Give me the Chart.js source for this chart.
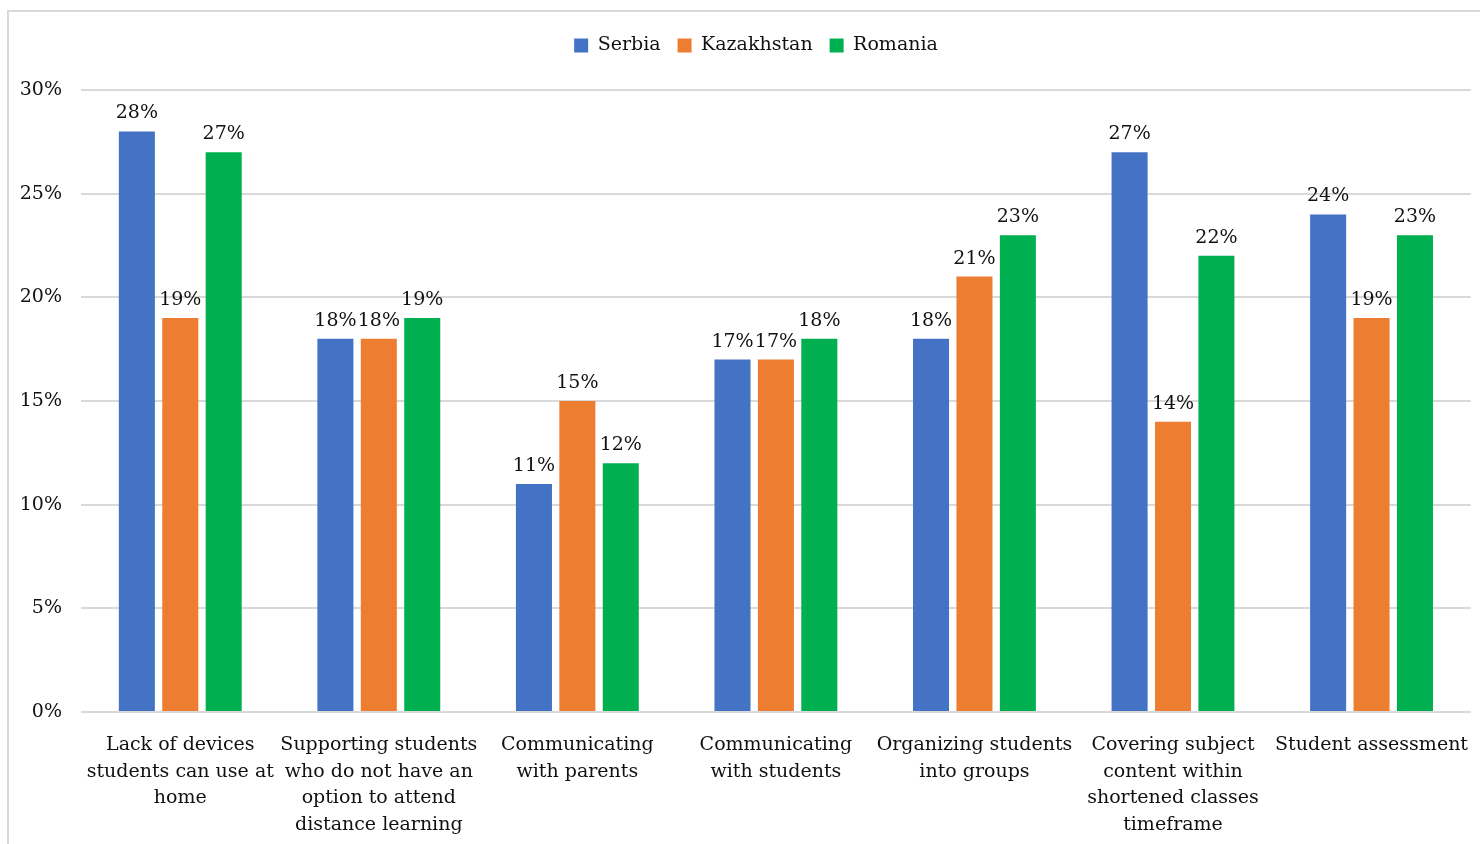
<!DOCTYPE html>
<html>
<head>
<meta charset="utf-8">
<script src="https://cdn.jsdelivr.net/npm/chart.js@4"></script>
<style>
  html, body { margin: 0; padding: 0; background: #fff; overflow: hidden; }
  #wrap { position: relative; width: 1480px; height: 844px; }
  #frame { position: absolute; left: 7px; top: 10px; width: 1500px; height: 900px; border: 2px solid #d9d9d9; box-sizing: border-box; }
  #chart { position: absolute; left: 0; top: 0; }
</style>
</head>
<body>
<div id="wrap">
  <div id="frame"></div>
  <canvas id="chart" width="1480" height="844"></canvas>
</div>
<script>
// categories (multi-line labels as drawn under the axis)
const categories = [
  ['Lack of devices', 'students can use at', 'home'],
  ['Supporting students', 'who do not have an', 'option to attend', 'distance learning'],
  ['Communicating', 'with parents'],
  ['Communicating', 'with students'],
  ['Organizing students', 'into groups'],
  ['Covering subject', 'content within', 'shortened classes', 'timeframe'],
  ['Student assessment']
];

const serbia     = [28, 18, 11, 17, 18, 27, 24];
const kazakhstan = [19, 18, 15, 17, 21, 14, 19];
const romania    = [27, 19, 12, 18, 23, 22, 23];

const yTicks = [0, 5, 10, 15, 20, 25, 30];

const FONT = "'DejaVu Serif', serif";
Chart.defaults.color = '#111';
Chart.defaults.font.family = FONT;
Chart.defaults.font.size = 19;

// value labels above each bar
const barValues = {
  id: 'barValues',
  afterDatasetsDraw(chart) {
    const ctx = chart.ctx;
    ctx.save();
    ctx.font = '19px ' + FONT;
    ctx.fillStyle = '#111';
    ctx.textAlign = 'center';
    ctx.textBaseline = 'alphabetic';
    chart.data.datasets.forEach((ds, i) => {
      chart.getDatasetMeta(i).data.forEach((bar, j) => {
        ctx.fillText(ds.data[j] + '%', bar.x, bar.y - 13);
      });
    });
    ctx.restore();
  }
};

// extra space under the legend, and nudge it a bit to the right
const legendGap = {
  id: 'legendGap',
  beforeInit(chart) {
    const fit = chart.legend.fit;
    chart.legend.fit = function () {
      fit.bind(chart.legend)();
      this.height += 25;
    };
  },
  afterLayout(chart) {
    chart.legend.left += 16;
    chart.legend.right += 16;
  }
};

new Chart(document.getElementById('chart'), {
  type: 'bar',
  data: {
    labels: categories,
    datasets: [
      { label: 'Serbia', data: serbia, backgroundColor: '#4472C4' },
      { label: 'Kazakhstan', data: kazakhstan, backgroundColor: '#ED7D31' },
      { label: 'Romania', data: romania, backgroundColor: '#00B050' }
    ]
  },
  options: {
    responsive: false,
    animation: false,
    layout: { padding: { left: 0, right: 0, top: 19, bottom: 0 } },
    datasets: {
      bar: { categoryPercentage: 0.656, barPercentage: 0.83 }
    },
    plugins: {
      legend: {
        position: 'top',
        labels: { boxWidth: 14, boxHeight: 14, padding: 17, font: { size: 19, family: FONT } }
      },
      tooltip: { enabled: false }
    },
    scales: {
      x: {
        grid: { display: false },
        border: { display: false },
        ticks: { maxRotation: 0, autoSkip: false, padding: 12, font: { size: 19, family: FONT, lineHeight: 1.4 } },
        afterFit(scale) { scale.height = 132; }
      },
      y: {
        min: 0,
        max: 30,
        afterBuildTicks(scale) { scale.ticks = yTicks.map(v => ({ value: v })); },
        grid: { color: '#d9d9d9', lineWidth: 2, drawTicks: false },
        border: { display: false },
        ticks: { padding: 19, callback: v => v + '%' },
        afterFit(scale) { scale.width = 81; }
      }
    }
  },
  plugins: [barValues, legendGap]
});
</script>
</body>
</html>
